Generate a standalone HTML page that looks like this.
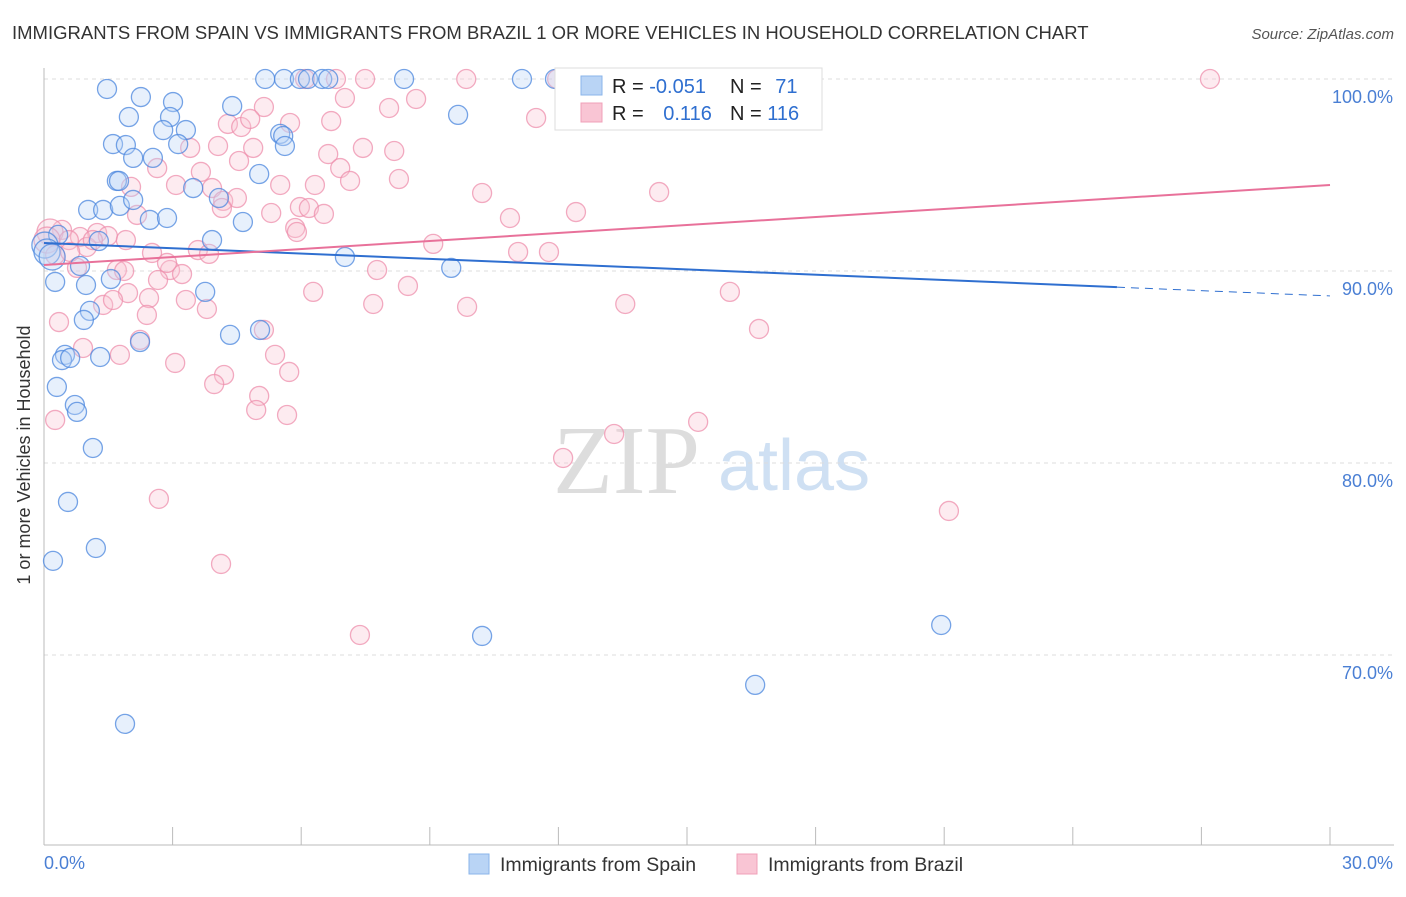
<!DOCTYPE html>
<html><head><meta charset="utf-8"><style>
body{margin:0;background:#fff;font-family:"Liberation Sans",sans-serif;}
</style></head><body>
<svg id="chart" width="1406" height="892" xmlns="http://www.w3.org/2000/svg">
<text x="12" y="39" font-size="18.5" fill="#333">IMMIGRANTS FROM SPAIN VS IMMIGRANTS FROM BRAZIL 1 OR MORE VEHICLES IN HOUSEHOLD CORRELATION CHART</text>
<text x="1394" y="39" font-size="15" fill="#555" font-style="italic" text-anchor="end">Source: ZipAtlas.com</text>
<g>
<text x="553" y="493" font-size="98" font-family="Liberation Serif,serif" fill="#ddd">ZIP</text>
<text x="718" y="490" font-size="72" fill="#cfe0f3">atlas</text>
</g>
<g id="grid"></g>
<g id="axes"></g>
<g id="pts"></g>
<g id="trend"></g>
<text x="30" y="455" font-size="18" fill="#333" text-anchor="middle" transform="rotate(-90 30 455)">1 or more Vehicles in Household</text>
<text x="44" y="869" font-size="18" fill="#4a7fd4">0.0%</text>
<text x="1393" y="869" font-size="18" fill="#4a7fd4" text-anchor="end">30.0%</text>
<g>
<rect x="555" y="68" width="267" height="62" fill="#fff" stroke="#ddd"/>
<rect x="581" y="76" width="21" height="19" fill="#b9d4f5" stroke="#8ab4ea"/>
<rect x="581" y="103" width="21" height="19" fill="#f9c5d4" stroke="#f0a0b8"/>
<text x="612" y="93" font-size="20" fill="#222">R = <tspan fill="#2f6fd0">-0.051</tspan></text>
<text x="730" y="93" font-size="20" fill="#222">N = <tspan fill="#2f6fd0" dx="8">71</tspan></text>
<text x="612" y="120" font-size="20" fill="#222">R = <tspan fill="#2f6fd0" dx="14">0.116</tspan></text>
<text x="730" y="120" font-size="20" fill="#222">N = <tspan fill="#2f6fd0">116</tspan></text>
</g>
<g>
<rect x="469" y="854" width="20" height="20" fill="#b9d4f5" stroke="#8ab4ea"/>
<text x="500" y="871" font-size="19.5" fill="#333">Immigrants from Spain</text>
<rect x="737" y="854" width="20" height="20" fill="#f9c5d4" stroke="#f0a0b8"/>
<text x="768" y="871" font-size="19.5" fill="#333">Immigrants from Brazil</text>
</g>
</svg>
<script>
const yTicks=[100,90,80,70];
const yTickLabels=["100.0%","90.0%","80.0%","70.0%"];
const xTicks=[0,3,6,9,12,15,18,21,24,27,30];
const spainX=[1.47,2.26,3.01,4.39,1.98,2.94,9.66,2.78,3.31,1.61,1.91,5.51,5.58,5.62,2.08,2.54,3.13,1.70,1.75,3.48,5.02,1.03,1.38,1.77,2.08,2.47,2.87,4.08,4.64,0.33,1.28,3.92,0.02,0.07,0.19,0.84,7.02,9.50,0.26,0.98,1.56,3.76,1.07,0.93,2.24,4.34,5.04,0.49,0.42,1.31,0.61,0.30,0.72,0.77,1.14,0.56,1.21,0.21,1.89,10.22,16.59,20.93,5.16,5.60,5.97,6.16,6.49,6.63,8.40,11.15,11.92];
const spainY=[99.48,99.06,98.80,98.59,98.02,98.02,98.13,97.34,97.34,96.61,96.56,97.14,97.03,96.51,95.89,95.89,96.61,94.69,94.69,94.32,95.05,93.18,93.18,93.39,93.70,92.66,92.76,93.80,92.55,91.88,91.56,91.61,91.35,90.99,90.73,90.26,90.73,90.16,89.43,89.27,89.58,88.91,87.92,87.45,86.30,86.67,86.93,85.63,85.36,85.52,85.47,83.96,83.02,82.66,80.78,77.97,75.57,74.90,66.41,70.99,68.44,71.56,100,100,100,100,100,100,100,100,100];
const brazilX=[27.20,9.85,6.81,7.49,11.97,13.97,6.09,7.02,8.05,8.68,5.13,11.48,4.29,4.60,4.81,5.74,6.70,3.41,4.06,4.88,4.55,6.63,7.44,8.17,6.91,7.14,8.28,2.64,2.03,3.08,3.66,3.92,4.18,4.50,5.51,6.32,10.22,14.35,5.97,6.18,6.53,5.30,4.15,2.17,5.86,5.90,10.87,12.41,9.08,11.06,11.78,3.59,3.85,1.24,0.42,0.84,1.00,1.49,1.91,0.77,1.70,1.87,2.94,3.22,2.66,2.87,2.52,6.28,7.77,8.49,7.68,9.87,13.56,16.00,2.45,1.96,1.38,1.61,3.80,3.31,2.40,5.13,16.68,0.35,2.24,0.91,1.77,3.06,5.39,5.72,4.20,3.97,5.02,4.95,5.67,15.26,13.30,12.11,0.26,2.68,21.11,4.13,7.37,0.14,0.07,0.58,1.14,0.26,0.61];
const brazilY=[100,100,100,100,100,100,100,99.01,98.49,98.96,98.54,97.97,97.66,97.50,97.92,97.71,97.81,96.41,96.51,96.41,95.73,96.09,96.41,96.25,95.36,94.69,94.79,95.36,94.38,94.48,95.16,94.32,93.65,93.80,94.48,94.48,94.06,94.11,93.33,93.28,92.97,93.02,93.28,92.92,92.24,92.03,92.76,93.07,91.41,90.99,90.99,91.09,90.89,91.98,92.14,91.77,91.25,91.82,91.61,90.16,90.05,90.00,90.05,89.84,89.53,90.42,90.94,88.91,90.05,89.22,88.28,88.13,88.28,88.91,88.59,88.85,88.23,88.49,88.02,88.49,87.71,86.93,86.98,87.34,86.41,85.99,85.63,85.21,85.63,84.74,84.58,84.11,83.49,82.76,82.50,82.14,81.51,80.26,82.24,78.13,77.50,74.74,71.04,92.03,91.61,91.61,91.61,90.83,90.99];
const spainTrend=[91.46,-0.092];
const brazilTrend=[90.31,0.139];
const NS="http://www.w3.org/2000/svg";
const X0=44,X1=1330,Y0=845,Y1=79,YMIN=60.1,YMAX=100;
function sx(v){return X0+(v/30)*(X1-X0);}
function sy(v){return Y0-(v-YMIN)/(YMAX-YMIN)*(Y0-Y1);}
function mk(tag,attrs,parent){const e=document.createElementNS(NS,tag);for(const k in attrs)e.setAttribute(k,attrs[k]);document.getElementById(parent).appendChild(e);return e;}
yTicks.forEach((t,i)=>{
  const l=mk('line',{x1:X0,x2:1394,y1:sy(t),y2:sy(t),stroke:'#ddd','stroke-dasharray':'4,4'},'grid');
  
  
  const tx=mk('text',{x:1393,y:sy(t)+24,'font-size':18,fill:'#4a7fd4','text-anchor':'end'},'grid');
  tx.textContent=yTickLabels[i];
  
  
});
const ya=mk('line',{x1:X0,x2:X0,y1:68,y2:Y0,stroke:'#bbb'},'axes');


const xa=mk('line',{x1:X0,x2:1394,y1:Y0,y2:Y0,stroke:'#bbb'},'axes');


xTicks.forEach(t=>{
  const l=mk('line',{x1:sx(t),x2:sx(t),y1:827,y2:Y0,stroke:'#bbb'},'axes');
  
  
});
function pts(xs,ys,fill,stroke,name){
  xs.forEach((x,i)=>{
    const r=x<0.2?13:9.5;
    const c=mk('circle',{cx:sx(x),cy:sy(ys[i]),r:r,fill:fill,'fill-opacity':0.35,stroke:stroke,'stroke-width':1.3,'stroke-opacity':0.75},'pts');
    
    
  });
}
pts(brazilX,brazilY,'#f9c5d4','#ee8fac','brazil-point');
pts(spainX,spainY,'#b9d4f5','#4a86dd','spain-point');
function ln(tr,x1,x2,color,dash,name){
  const a={x1:sx(x1),x2:sx(x2),y1:sy(tr[0]+tr[1]*x1),y2:sy(tr[0]+tr[1]*x2),stroke:color,'stroke-width':2};
  if(dash){a['stroke-dasharray']='8,6';a['stroke-width']=1;}
  const l=mk('line',a,'trend');
  
  
}
ln(spainTrend,0,25.03,'#2f6fd0',false,'spain-trend-line');
ln(spainTrend,25.03,30,'#2f6fd0',true,'spain-trend-extension');
ln(brazilTrend,0,30,'#e8719a',false,'brazil-trend-line');
</script>
</body></html>
